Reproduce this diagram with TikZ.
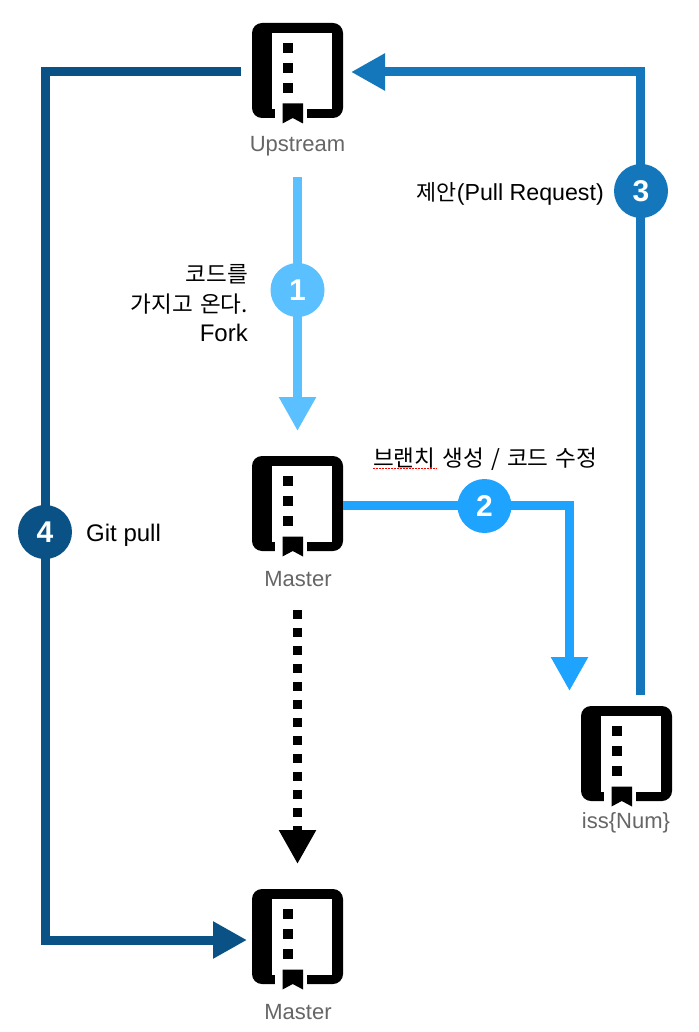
\documentclass[tikz,border=0pt]{standalone}
\usepackage{fontspec}
\setmainfont{Liberation Sans}
\newfontfamily\kr[Scale=0.94,WordSpace=1.4]{Noto Sans CJK KR}
\newcommand{\krlow}[1]{\raisebox{-1.5pt}{\kr #1}}
\usetikzlibrary{arrows.meta}
\definecolor{cone}{HTML}{5AC0FF}
\definecolor{ctwo}{HTML}{1EA3FF}
\definecolor{cthree}{HTML}{1477BC}
\definecolor{cfour}{HTML}{0A5285}
\definecolor{lblgrey}{HTML}{666666}
\tikzset{
  x=1pt,y=-1pt,
  conn/.style={line width=9pt,line cap=butt,line join=miter},
  head/.style={-{Triangle[length=34pt,width=35pt]}},
  badge/.style={circle,minimum size=54pt,inner sep=0pt,text=white,font=\fontsize{30}{30}\selectfont\bfseries},
  caption/.style={font=\fontsize{24}{30.5}\selectfont,text=black,inner sep=0pt},
  iconlabel/.style={font=\fontsize{22}{26}\selectfont,text=lblgrey,inner sep=0pt,anchor=base},
  anchorbox/.style={minimum width=91pt,minimum height=95pt,inner sep=0pt},
  repo/.pic={
    \fill[black,rounded corners=10pt] (-45.5,-47.5) rectangle (45.5,47.5);
    \fill[white] (-25.5,-37.5) rectangle (34.5,38.5);
    \fill[white] (-22.5,38) rectangle (9.5,48);
    \fill[black] (-15,33) -- (5.5,33) -- (5.5,53) -- (-4.75,47.5) -- (-15,53) -- cycle;
    \fill[black] (-15,-27.5) rectangle (-4.5,-17.5);
    \fill[black] (-15,-7.5) rectangle (-4.5,2.5);
    \fill[black] (-15,12.5) rectangle (-4.5,22.5);
    \node[anchorbox] (-box) at (0,0) {};
  }
}
\begin{document}
\begin{tikzpicture}
\useasboundingbox (0,0) rectangle (698,1032);
\fill[white] (0,0) rectangle (698,1032);
\pic (upstream) at (297.5,70.5) {repo};
\pic (master) at (297.5,503.5) {repo};
\pic (iss) at (626.5,753.5) {repo};
\pic (final) at (297.5,936.5) {repo};
\node[iconlabel] (lup) at (297.5,152) {Upstream};
\node[iconlabel] (lmas) at (298,586) {Master};
\node[iconlabel] (liss) at (626,828) {iss\{Num\}};
\node[iconlabel] (lfin) at (298,1019) {Master};
% arrow 1
\coordinate (a1s) at (297.5,177);
\coordinate (a1e) at (297.5,431);
\draw[conn,cone,head] (a1s) -- (a1e);
\node[badge,fill=cone] (b1) at (297.5,290) {1};
% arrow 2
\coordinate (a2s) at (343,505.5);
\coordinate (a2m) at (569.5,505.5);
\coordinate (a2e) at (569.5,691);
\draw[conn,ctwo,head] (a2s) -- (a2m) -- (a2e);
\node[badge,fill=ctwo] (b2) at (484.5,506) {2};
% arrow 3
\coordinate (a3s) at (640,695);
\coordinate (a3m) at (640,72);
\coordinate (a3e) at (351,72);
\draw[conn,cthree,head] (a3s) -- (a3m) -- (a3e);
\node[badge,fill=cthree] (b3) at (641,191) {3};
% arrow 4
\coordinate (a4s) at (241,72);
\coordinate (a4a) at (45,72);
\coordinate (a4b) at (45,940);
\coordinate (a4e) at (247,940);
\draw[conn,cfour,head] (a4s) -- (a4a) -- (a4b) -- (a4e);
\node[badge,fill=cfour] (b4) at (45,532) {4};
% dotted
\coordinate (d1) at (297.5,610);
\coordinate (d2) at (297.5,864);
\draw[conn,black,dash pattern=on 9pt off 9pt,head] (d1) -- (d2);
% captions
\node[caption,align=right,anchor=north east] (t1) at (248,264) {\krlow{코드를}\\\krlow{가지고 온다.}\\Fork};
\node[caption,anchor=west] (t2) at (373,459.5) {\kr 브랜치 생성 / 코드 수정};
\node[caption,anchor=east,font=\fontsize{23.2}{28}\selectfont] (t3) at (604,194) {{\kr 제안}(Pull Request)};
\node[caption,anchor=west] (t4) at (86,535) {Git pull};
\coordinate (r1) at (373,468.5);
\coordinate (r2) at (437,468.5);
\draw[red,line width=1pt,dash pattern=on 1.5pt off 1.5pt] (r1) -- (r2);
\end{tikzpicture}
\end{document}
